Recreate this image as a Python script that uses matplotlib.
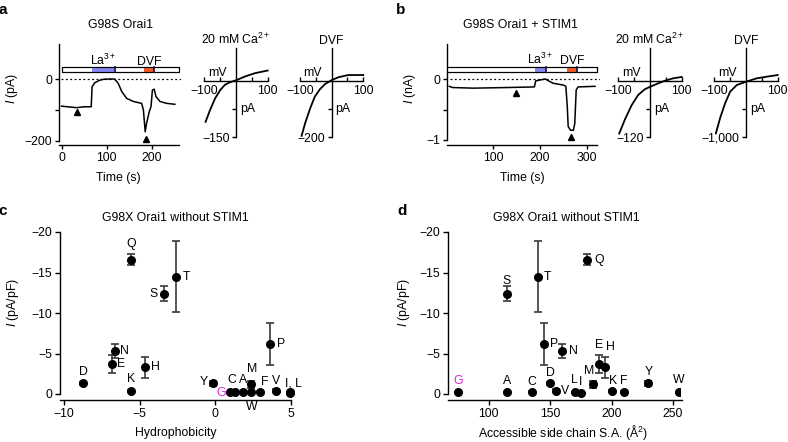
import matplotlib
matplotlib.use('Agg')
import matplotlib.pyplot as plt
from matplotlib.patches import Rectangle

plt.rcParams['font.family'] = ['Liberation Sans', 'DejaVu Sans']
plt.rcParams['font.size'] = 8.8
plt.rcParams['mathtext.fontset'] = 'custom'
plt.rcParams['mathtext.rm'] = 'Liberation Sans'
plt.rcParams['mathtext.it'] = 'Liberation Sans:italic'
plt.rcParams['axes.linewidth'] = 1.0
plt.rcParams['xtick.major.width'] = 1.0
plt.rcParams['ytick.major.width'] = 1.0

# ---- a: G98S Orai1 whole-cell trace (t in s, I in pA)
a_t = [0, 20, 34, 50, 66, 68, 74, 85, 93, 105, 118, 126, 134, 145, 160, 178, 182,
       186, 189, 195, 199, 202, 206, 210, 219, 234, 252]
a_i = [-88, -91, -93, -90, -90, -25, -12, -4, -1, 0, 0, -14, -41, -63, -73, -79, -100,
       -171, -144, -106, -89, -36, -33, -57, -73, -79, -82]
a_arrow_t = [35, 187]
a_arrow_i = [-106, -196]
a_bar = (0, 262)
a_la = (67, 119)
a_dvf = (184, 206)

# a: I-V curves (mV, pA)
a_ca_v = [-96, -82, -66, -50, -35, -19, 0, 28, 60, 100]
a_ca_i = [-109, -78, -47, -25, -11, -4, 1, 11, 20, 27]
a_dvf_v = [-95, -84, -68, -53, -37, -21, 0, 21, 52, 100]
a_dvf_i = [-195, -151, -98, -56, -30, -12, 2, 12, 20, 20]

# ---- b: G98S Orai1 + STIM1 trace (t in s, I in nA)
b_t = [7, 14, 58, 129, 188, 191, 211, 218, 228, 250, 255, 258, 260, 265, 271, 274,
       277, 281, 317]
b_i = [-0.12, -0.14, -0.15, -0.14, -0.13, -0.03, 0, -0.03, -0.07, -0.10, -0.12, -0.45,
       -0.78, -0.84, -0.84, -0.73, -0.18, -0.13, -0.12]
b_arrow_t = [149, 267]
b_arrow_i = [-0.23, -0.95]
b_bar = (0, 322)
b_la = (189, 213)
b_dvf = (258, 278)

# b: I-V curves (mV, pA)
b_ca_v = [-97, -79, -58, -37, -16, 0, 21, 47, 73, 100]
b_ca_i = [-112, -82, -52, -30, -18, -13, -7, 0, 5, 8]
b_dvf_v = [-95, -82, -66, -50, -29, 0, 34, 65, 100]
b_dvf_i = [-931, -666, -400, -194, -76, -18, 42, 71, 100]

# ---- c, d: G98X mutants without STIM1
aa = ['D', 'Q', 'S', 'T', 'N', 'E', 'H', 'K', 'P', 'Y', 'G', 'C', 'A', 'M', 'W', 'F', 'V', 'I', 'L']
hydro = [-8.72, -5.54, -3.40, -2.57, -6.64, -6.81, -4.66, -5.55, 3.6, -0.14, 0.94, 1.28,
         1.81, 2.35, 2.33, 2.98, 4.04, 4.92, 4.92]
sasa = [150, 180, 115, 140, 160, 190, 195, 200, 145, 230, 75, 135, 115, 185, 255, 210,
        155, 175, 170]
cur = [-1.3, -16.6, -12.4, -14.5, -5.3, -3.7, -3.3, -0.4, -6.2, -1.3, -0.2, -0.3, -0.2,
       -1.2, -0.2, -0.3, -0.4, -0.1, -0.2]
err = [0.2, 0.7, 0.9, 4.4, 0.9, 1.1, 1.3, 0.1, 2.6, 0.3, 0.1, 0.1, 0.1, 0.4, 0.1, 0.1,
       0.2, 0.1, 0.1]

# label offsets in pixels (right, up)
c_off = {'D': (0, 11), 'Q': (0, 16), 'S': (-10, 0), 'T': (10, 0), 'N': (10, 0), 'E': (9, 0),
         'H': (11, 0), 'K': (0, 12), 'P': (11, 0), 'Y': (-9, 1), 'G': (-8, -1), 'C': (-3, 12),
         'A': (0, 12), 'M': (1, 15), 'W': (1, -15), 'F': (4, 10), 'V': (0, 10), 'I': (4, 10)}
c_txt = {'I': 'I, L', 'L': ''}
d_off = {'G': (0, 11), 'A': (0, 11), 'C': (0, 10), 'D': (0, 10), 'V': (9, 0), 'L': (0, 12),
         'I': (0, 11), 'M': (-4, 13), 'P': (10, 0), 'N': (11, 0), 'S': (0, 13), 'T': (10, 0),
         'Q': (12, 0), 'E': (0, 19), 'H': (5, 20), 'K': (2, 10), 'F': (0, 11), 'Y': (0, 11),
         'W': (0, 12)}

W, H = 788, 442
fig = plt.figure(figsize=(W / 100, H / 100), dpi=100)


def place(x0, y0, x1, y1):
    # pixel box: left, top, right, bottom
    ax = fig.add_axes([x0 / W, 1 - y1 / H, (x1 - x0) / W, (y1 - y0) / H])
    ax.patch.set_alpha(0)
    return ax


def span(p_lo, p_hi, v0, p0, v1, p1):
    k = (v1 - v0) / (p1 - p0)
    return v0 + (p_lo - p0) * k, v0 + (p_hi - p0) * k


def ftext(x, y, s, **kw):
    fig.text(x / W, 1 - y / H, s, ha='center', va='center', **kw)


def trace_panel(box, xmap, ymap, t, i, arr_t, arr_i, bar, la, dvf, xticks, yticks, ylab, bar_y, lab_y):
    ax = place(*box)
    ax.set_xlim(span(box[0], box[2], *xmap))
    ax.set_ylim(span(box[3], box[1], *ymap))
    for s in ['top', 'right']:
        ax.spines[s].set_visible(False)
    y0, y1 = ax.get_ylim()
    ax.spines['left'].set_bounds(yticks[-1], y1)
    ax.spines['bottom'].set_bounds(ax.get_xlim()[0], bar[1])
    ax.set_xticks(xticks)
    ax.set_yticks([yticks[0], yticks[1], yticks[2]], [ylab[0], '', ylab[1]])
    ax.tick_params(direction='out', length=3, pad=2)
    ax.axhline(0, xmin=0.02, xmax=1, color='k', ls=(0, (1.5, 2)), lw=0.9)
    ax.plot(t, i, color='k', lw=1.1)
    ax.plot(arr_t, arr_i, '^', color='k', ms=4.5)
    h = bar_y[1] - bar_y[0]
    ax.add_patch(Rectangle((bar[0], bar_y[0]), bar[1] - bar[0], h, fc='white', ec='k', lw=0.8))
    ax.add_patch(Rectangle((la[0], bar_y[0]), la[1] - la[0], h, fc='#8585f2', ec='none'))
    ax.add_patch(Rectangle((dvf[0], bar_y[0]), dvf[1] - dvf[0], h, fc='#ef5a2a', ec='none'))
    ax.add_patch(Rectangle((bar[0], bar_y[0]), bar[1] - bar[0], h, fc='none', ec='k', lw=0.8))
    for e in [la[1], dvf[1]]:
        ax.plot([e, e], bar_y, color='#101040', lw=1.2)
    ax.text((la[0] + la[1]) / 2, lab_y, 'La$^{3+}$', ha='center', va='baseline')
    ax.text((dvf[0] + dvf[1]) / 2, lab_y, 'DVF', ha='center', va='baseline')
    return ax


trace_panel((59, 44, 181, 145), (0, 61.5, 100, 106.5), (0, 79, -200, 140.7),
            a_t, a_i, a_arrow_t, a_arrow_i, a_bar, a_la, a_dvf,
            [0, 100, 200], [0, -100, -200], ['0', '\u2212200'], (23, 38), 47)
trace_panel((447, 44, 600, 145), (0, 446, 100, 493), (0, 79, -1, 140),
            b_t, b_i, b_arrow_t, b_arrow_i, b_bar, b_la, b_dvf,
            [100, 200, 300], [0, -0.5, -1], ['0', '\u22121'], (0.115, 0.19), 0.24)


def iv_panel(xpx, ypx, ymin, ylabel, v, i, title):
    # xpx: pixel of -100 and +100 mV; ypx: pixel of 0 and ymin
    box = (xpx[0] - 4, 46, xpx[1] + 4, ypx[1] + 3)
    ax = place(*box)
    ax.set_xlim(span(box[0], box[2], -100, xpx[0], 100, xpx[1]))
    ax.set_ylim(span(box[3], box[1], 0, ypx[0], ymin, ypx[1]))
    top = span(48.3, 48.3, 0, ypx[0], ymin, ypx[1])[0]
    for s in ['top', 'right']:
        ax.spines[s].set_visible(False)
    ax.spines['left'].set_position(('data', 0))
    ax.spines['bottom'].set_position(('data', 0))
    ax.spines['left'].set_bounds(ymin, top)
    ax.spines['bottom'].set_bounds(-100, 100)
    ax.set_xticks([-100, -50, 50, 100], ['\u2212100', '', '', '100'])
    ax.set_yticks([ymin / 2, ymin], ['', ylabel])
    ax.tick_params(axis='x', direction='in', length=3, pad=3)
    ax.tick_params(axis='y', direction='out', length=3, pad=1.5)
    ax.plot(v, i, color='k', lw=1.3)
    ax.annotate('mV', (0, 0), xytext=(-19, 8), textcoords='offset pixels', ha='center', va='center')
    ax.annotate('pA', (0, 0), xytext=(4, -28), textcoords='offset pixels', ha='left', va='center')
    ax.annotate(title, (0, top), xytext=(0, 4), textcoords='offset pixels', ha='center', va='baseline')


iv_panel((204.3, 267.7), (80.7, 137.3), -150, '\u2212150', a_ca_v, a_ca_i, '20 mM Ca$^{2+}$')
iv_panel((300, 363.3), (80.7, 137.3), -200, '\u2212200', a_dvf_v, a_dvf_i, 'DVF')
iv_panel((618.3, 681.7), (80.7, 137.3), -120, '\u2212120', b_ca_v, b_ca_i, '20 mM Ca$^{2+}$')
iv_panel((714.3, 777.7), (80.7, 137.3), -1000, '\u22121,000', b_dvf_v, b_dvf_i, 'DVF')


def scatter_panel(box, xmap, xend, xs, xticks, off, txt):
    ax = place(*box)
    ax.set_xlim(span(box[0], box[2], *xmap))
    ax.set_ylim(span(box[3], box[1], 0, 394, -20, 232))
    for s in ['top', 'right']:
        ax.spines[s].set_visible(False)
    ax.spines['left'].set_bounds(-20, 0)
    ax.spines['bottom'].set_bounds(ax.get_xlim()[0], xend)
    ax.set_xticks(xticks)
    ax.set_yticks([0, -5, -10, -15, -20])
    ax.tick_params(direction='out', length=3.5, pad=2)
    ax.errorbar(xs, cur, yerr=err, fmt='none', ecolor='#3a3a3a', elinewidth=1.2,
                capsize=2.8, capthick=1.2, zorder=2)
    ax.plot(xs, cur, 'o', color='k', ms=5.5, zorder=3)
    for k, name in enumerate(aa):
        s = txt.get(name, name)
        if not s:
            continue
        col = '#e020e0' if name == 'G' else 'k'
        ax.annotate(s, (xs[k], cur[k]), xytext=off[name], textcoords='offset pixels',
                    ha='center', va='center', color=col)
    return ax


scatter_panel((60, 226, 296, 400), (-10, 64, 5, 291), 5, hydro, [-10, -5, 0, 5], c_off, c_txt)
scatter_panel((448, 226, 680, 400), (100, 488.5, 250, 673), 257, sasa, [100, 150, 200, 250], d_off, {})

# texts
ftext(3, 10, 'a', fontweight='bold', fontsize=11)
ftext(401, 10, 'b', fontweight='bold', fontsize=11)
ftext(3, 211, 'c', fontweight='bold', fontsize=11)
ftext(402, 211, 'd', fontweight='bold', fontsize=11)
ftext(120, 25, 'G98S Orai1')
ftext(520, 25, 'G98S Orai1 + STIM1')
ftext(118, 178, 'Time (s)')
ftext(522, 178, 'Time (s)')
ftext(12, 88, '$\\it{I}$ (pA)', rotation=90)
ftext(410, 88, '$\\it{I}$ (nA)', rotation=90)
ftext(175, 218, 'G98X Orai1 without STIM1')
ftext(566, 218, 'G98X Orai1 without STIM1')
ftext(13, 303, '$\\it{I}$ (pA/pF)', rotation=90)
ftext(404, 303, '$\\it{I}$ (pA/pF)', rotation=90)
ftext(176, 433, 'Hydrophobicity')
ftext(563, 432, 'Accessible side chain S.A. (\u00c5$^{2}$)')

fig.savefig('out.png', dpi=100)
